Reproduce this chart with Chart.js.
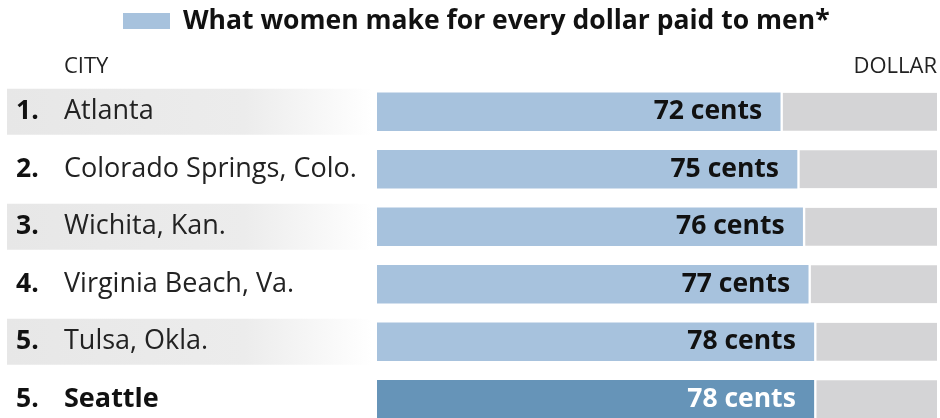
<!DOCTYPE html>
<html lang="en">
<head>
    <meta charset="UTF-8">
    <title>What women make for every dollar paid to men</title>
    <script src="https://cdn.jsdelivr.net/npm/chart.js"></script>
    <style>
        html, body { margin: 0; padding: 0; background: #fff; overflow: hidden; }
        #wrap { width: 940px; height: 430px; }
    </style>
</head>
<body>
    <div id="wrap"><canvas id="gapChart" width="940" height="430"></canvas></div>

    <script>
        // data
        const ranks = ['1.', '2.', '3.', '4.', '5.', '5.'];
        const cities = ['Atlanta', 'Colorado Springs, Colo.', 'Wichita, Kan.', 'Virginia Beach, Va.', 'Tulsa, Okla.', 'Seattle'];
        const cents = [72, 75, 76, 77, 78, 78];
        const dollar = 100;
        const highlight = 'Seattle';

        const FONT = '"Open Sans", sans-serif';
        const lightBlue = '#a7c2dd';
        const darkBlue = '#6694b8';
        const grey = '#d4d4d6';

        const rest = cents.map(c => dollar - c);

        // row shading, rank + city labels, header text, value labels
        const tablePlugin = {
            id: 'tablePlugin',
            beforeDatasetsDraw(chart) {
                const ctx = chart.ctx;
                const y = chart.scales.y;
                ctx.save();
                cities.forEach((c, i) => {
                    if (i % 2 !== 0) return;
                    const cy = y.getPixelForValue(i);
                    const g = ctx.createLinearGradient(7, 0, 372, 0);
                    g.addColorStop(0, '#e7e7e7');
                    g.addColorStop(0.65, '#ececec');
                    g.addColorStop(1, '#ffffff');
                    ctx.fillStyle = g;
                    ctx.fillRect(7, cy - 23, 365, 46);
                });
                ctx.restore();
            },
            afterDatasetsDraw(chart) {
                const ctx = chart.ctx;
                const y = chart.scales.y;
                const meta = chart.getDatasetMeta(0);
                ctx.save();
                ctx.textBaseline = 'middle';

                // header
                ctx.fillStyle = lightBlue;
                ctx.fillRect(123, 13, 47, 16);
                ctx.fillStyle = '#111';
                ctx.font = 'bold 26.5px ' + FONT;
                ctx.textAlign = 'left';
                ctx.fillText('What women make for every dollar paid to men*', 183, 21);
                ctx.font = '22px ' + FONT;
                ctx.fillStyle = '#222';
                ctx.fillText('CITY', 64, 67);
                ctx.textAlign = 'right';
                ctx.fillText('DOLLAR', 937, 67);

                cities.forEach((c, i) => {
                    const cy = y.getPixelForValue(i);
                    const hl = c === highlight;
                    ctx.textAlign = 'left';
                    ctx.fillStyle = '#111';
                    ctx.font = 'bold 26.5px ' + FONT;
                    ctx.fillText(ranks[i], 16, cy);
                    ctx.font = (hl ? 'bold ' : '') + '27px ' + FONT;
                    ctx.fillStyle = hl ? '#111' : '#222';
                    ctx.fillText(c, 64, cy);

                    const bar = meta.data[i];
                    ctx.textAlign = 'right';
                    ctx.font = 'bold 26.5px ' + FONT;
                    ctx.fillStyle = hl ? '#ffffff' : '#111';
                    ctx.fillText(cents[i] + ' cents', bar.x - 18, cy);
                });
                ctx.restore();
            }
        };

        new Chart(document.getElementById('gapChart'), {
            type: 'bar',
            data: {
                labels: cities,
                datasets: [
                    {
                        label: 'What women make for every dollar paid to men*',
                        data: cents,
                        backgroundColor: cities.map(c => c === highlight ? darkBlue : lightBlue),
                        borderWidth: 0
                    },
                    {
                        label: 'Dollar',
                        data: rest,
                        backgroundColor: grey,
                        borderColor: '#ffffff',
                        borderWidth: { left: 3, right: 0, top: 0, bottom: 0 },
                        borderSkipped: false
                    }
                ]
            },
            options: {
                indexAxis: 'y',
                responsive: false,
                animation: false,
                layout: { padding: { left: 377, right: 3, top: 83, bottom: 2 } },
                datasets: { bar: { barThickness: 38 } },
                scales: {
                    x: { stacked: true, min: 0, max: dollar, display: false },
                    y: { stacked: true, display: false }
                },
                plugins: {
                    legend: { display: false },
                    tooltip: { enabled: false }
                }
            },
            plugins: [tablePlugin]
        });
    </script>
</body>
</html>
